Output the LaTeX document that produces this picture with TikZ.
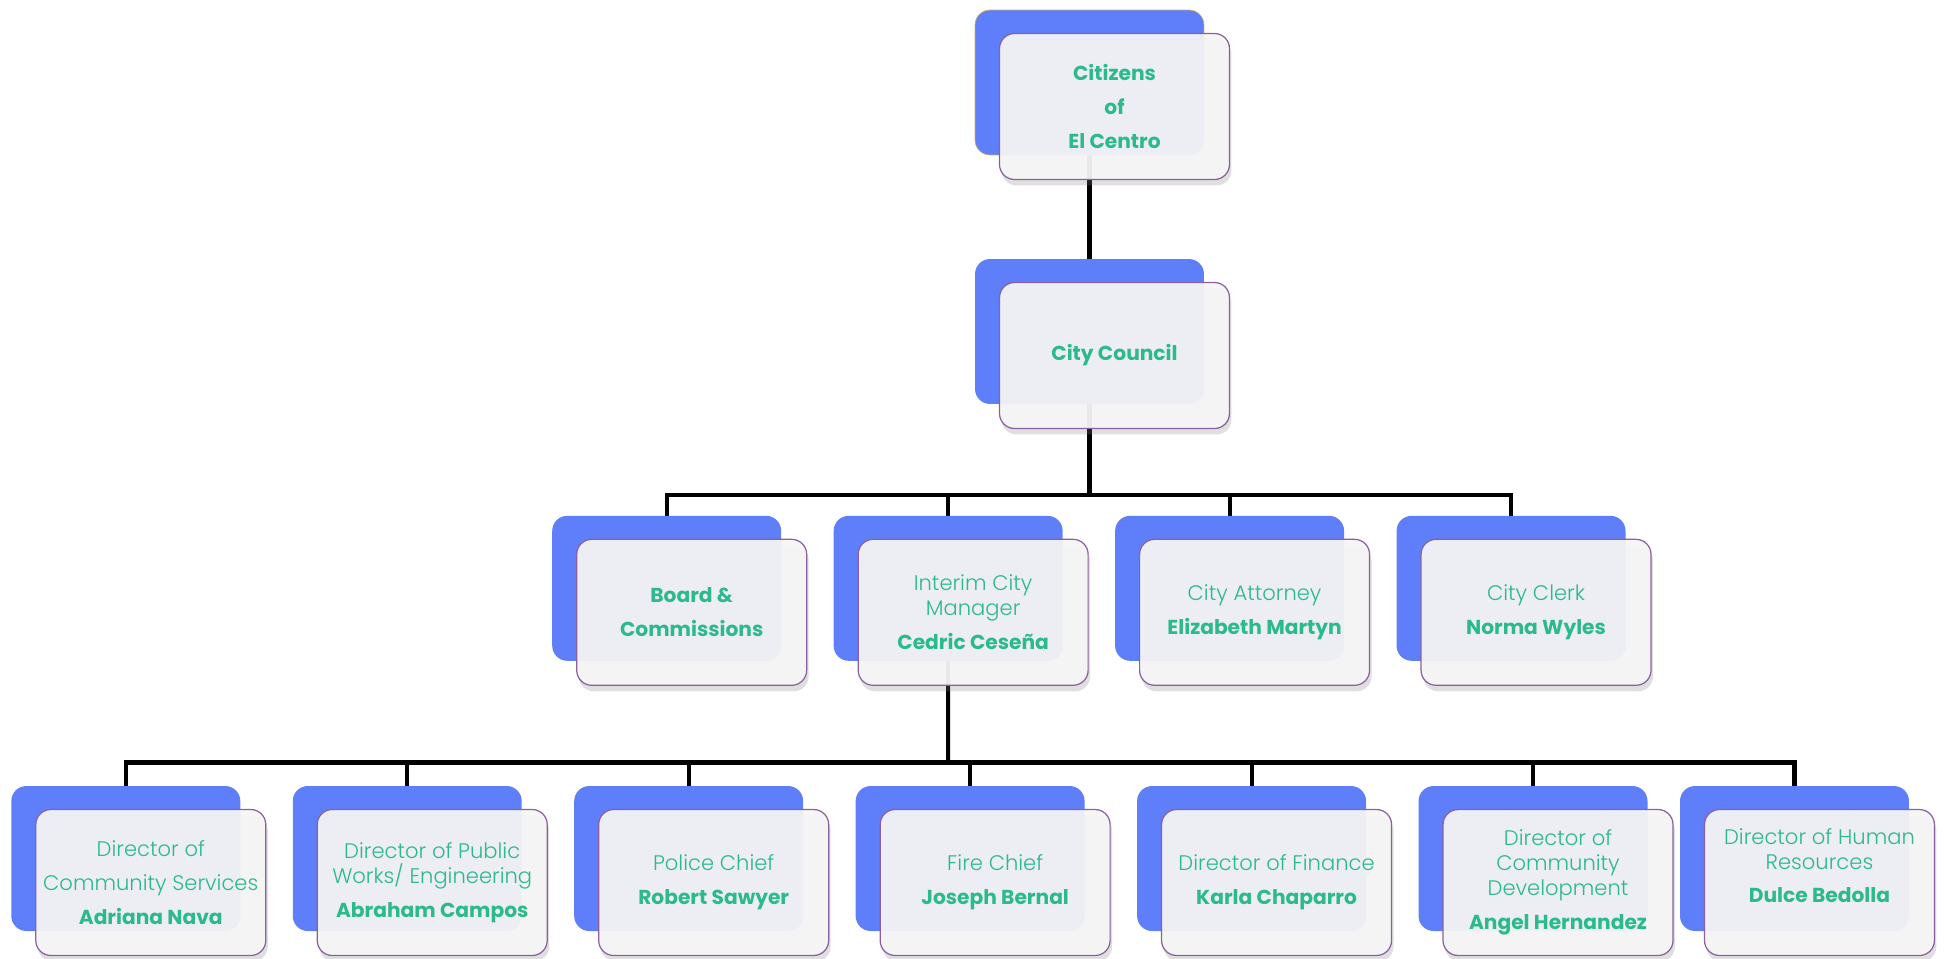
\documentclass[tikz,border=0pt]{standalone}
\usepackage{fontspec}
\setmainfont{Poppins}
\newfontfamily\lightfont{Poppins Light}
\usetikzlibrary{positioning,shadows,backgrounds}

\definecolor{boxblue}{RGB}{95,127,250}
\definecolor{boxgrey}{RGB}{245,245,245}
\definecolor{boxedge}{RGB}{140,95,160}
\definecolor{tanedge}{RGB}{200,175,110}
\definecolor{labelgreen}{RGB}{44,186,138}

\newcommand{\who}[1]{{\normalfont\bfseries\fontsize{11.5}{14}\selectfont #1}}

\tikzset{
	back/.style={rectangle, rounded corners=0.3cm, fill=boxblue, minimum width=4.58cm, minimum height=2.9cm, inner sep=0pt},
	front/.style={rectangle, rounded corners=0.3cm, draw=boxedge, line width=0.7pt, fill=boxgrey, fill opacity=0.94, text opacity=1,
		minimum width=4.6cm, minimum height=2.92cm, xshift=0.5cm, yshift=-0.48cm, inner sep=2pt,
		drop shadow={opacity=0.25, shadow xshift=0.04cm, shadow yshift=-0.12cm},
		text=labelgreen, align=center, font=\lightfont\fontsize{12}{14.2}\selectfont},
	conn/.style={line width=2.3pt, black}
}

\begin{document}
\begin{tikzpicture}[x=0.02cm, y=-0.02cm, node distance=5.63cm]
	\useasboundingbox (0,0) rectangle (1944,958);

	% top
	\node[back, draw=tanedge] (citb) at (1089.5,82.5) {};
	\node[front] (cit) at (citb) {\who{Citizens}\\[5pt]\who{of}\\[5pt]\who{El Centro}};

	\node[back] (coub) at (1089.5,331.5) {};
	\node[front] (cou) at (coub) {\who{City Council}};

	% second row
	\node[back] (brdb) at (666.7,588.3) {};
	\node[back] (mgrb) [right of=brdb] {};
	\node[back] (attb) [right of=mgrb] {};
	\node[back] (clkb) [right of=attb] {};

	\node[front] (brd) at (brdb) {\who{Board \&}\\[5pt]\who{Commissions}};
	\node[front] (mgr) at (mgrb) {Interim City\\Manager\\[5pt]\who{Cedric Ceseña}};
	\node[front] (att) at (attb) {City Attorney\\[5pt]\who{Elizabeth Martyn}};
	\node[front] (clk) at (clkb) {City Clerk\\[5pt]\who{Norma Wyles}};

	% third row
	\node[back] (dcsb) at (125.8,858.5) {};
	\node[back] (dpwb) [right of=dcsb] {};
	\node[back] (polb) [right of=dpwb] {};
	\node[back] (firb) [right of=polb] {};
	\node[back] (finb) [right of=firb] {};
	\node[back] (dcdb) [right of=finb] {};
	\node[back] (dhrb) [right of=dcdb, node distance=5.23cm] {};

	\node[front] (dcs) at (dcsb) {Director of\\[5pt]Community Services\\[5pt]\who{Adriana Nava}};
	\node[front] (dpw) at (dpwb) {Director of Public\\Works/ Engineering\\[5pt]\who{Abraham Campos}};
	\node[front] (pol) at (polb) {Police Chief\\[5pt]\who{Robert Sawyer}};
	\node[front] (fir) at (firb) {Fire Chief\\[5pt]\who{Joseph Bernal}};
	\node[front] (fin) at (finb) {Director of Finance\\[5pt]\who{Karla Chaparro}};
	\node[front] (dcd) at (dcdb) {Director of\\Community\\Development\\[5pt]\who{Angel Hernandez}};
	\node[front] (dhr) at (dhrb) {Director of Human\\Resources\\[5pt]\who{Dulce Bedolla}\\[5pt]\mbox{}};

	% connectors behind the boxes
	\begin{scope}[on background layer]
		\draw[conn] (citb.center) -- (coub.center);
		\coordinate (j1) at (1089.5,494.7);
		\draw[conn] (coub.center) -- (j1);
		\foreach \n in {brdb,mgrb,attb,clkb}
			\draw[conn] (\n.center) |- (j1);
		\coordinate (j2) at (948.2,762.5);
		\draw[conn] (mgrb.center) -- (j2);
		\foreach \n in {dcsb,dpwb,polb,firb,finb,dcdb,dhrb}
			\draw[conn] (\n.center) |- (j2);
	\end{scope}
\end{tikzpicture}
\end{document}
